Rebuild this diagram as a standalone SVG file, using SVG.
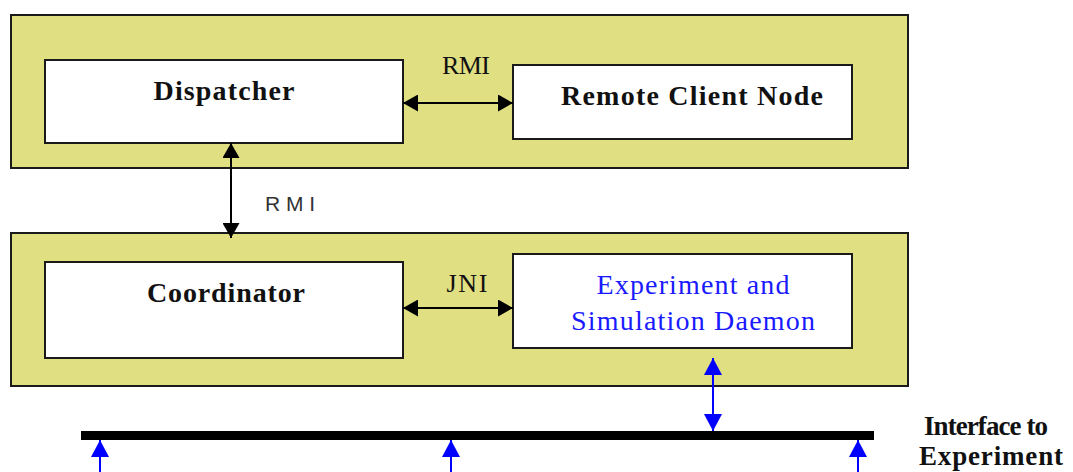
<svg xmlns="http://www.w3.org/2000/svg" width="1073" height="472" viewBox="0 0 1073 472">
  <style>
    .outer { fill: #e0df82; stroke: #1a1a1a; stroke-width: 2; }
    .inner { fill: #ffffff; stroke: #1a1a1a; stroke-width: 2; }
    .title { font-family: "Liberation Serif", serif; font-weight: bold; font-size: 28px; fill: #111; text-anchor: middle; }
    .blue { font-family: "Liberation Serif", serif; font-size: 28px; fill: #1a1aff; text-anchor: middle; }
    .lbl { font-family: "Liberation Serif", serif; font-size: 26px; fill: #111; text-anchor: middle; }
    .lbl2 { font-family: "Liberation Sans", sans-serif; font-size: 21px; fill: #333; }
    .side { font-family: "Liberation Serif", serif; font-weight: bold; font-size: 27px; fill: #111; }
    .blk { stroke: #000; stroke-width: 2; fill: none; }
    .bl { stroke: #0000ff; stroke-width: 2; fill: none; }
  </style>
  <defs>
    <marker id="ah" viewBox="0 0 15 17" refX="15" refY="8.5" markerWidth="15" markerHeight="17" markerUnits="userSpaceOnUse" orient="auto-start-reverse">
      <path d="M0,0 L15,8.5 L0,17 z" fill="#000"/>
    </marker>
    <marker id="bh" viewBox="0 0 17 18" refX="17" refY="9" markerWidth="17" markerHeight="18" markerUnits="userSpaceOnUse" orient="auto-start-reverse">
      <path d="M0,0 L17,9 L0,18 z" fill="#0000ff"/>
    </marker>
  </defs>

  <g id="top-host">
    <rect class="outer" x="11" y="15" width="897" height="153"/>
  </g>
  <g id="bottom-host">
    <rect class="outer" x="11" y="233" width="897" height="153"/>
  </g>

  <g id="dispatcher">
    <rect class="inner" x="45" y="60" width="358" height="83"/>
    <text class="title" x="224" y="100" textLength="141" lengthAdjust="spacing">Dispatcher</text>
  </g>
  <g id="remote-client-node">
    <rect class="inner" x="513" y="65" width="339" height="74"/>
    <text class="title" x="692" y="105" textLength="262" lengthAdjust="spacing">Remote Client Node</text>
  </g>
  <g id="coordinator">
    <rect class="inner" x="45" y="262" width="358" height="96"/>
    <text class="title" x="226" y="302" textLength="158" lengthAdjust="spacing">Coordinator</text>
  </g>
  <g id="daemon">
    <rect class="inner" x="513" y="254" width="339" height="94"/>
    <text class="blue" x="693" y="294" textLength="193" lengthAdjust="spacing">Experiment and</text>
    <text class="blue" x="693" y="330" textLength="244" lengthAdjust="spacing">Simulation Daemon</text>
  </g>

  <g id="interface-bar">
    <rect x="81" y="431" width="793" height="9" fill="#000"/>
    <text class="side" x="924" y="435" textLength="124" lengthAdjust="spacing">Interface to</text>
    <text class="side" x="919" y="465" textLength="144" lengthAdjust="spacing">Experiment</text>
  </g>

  <g id="connectors">
    <line class="blk" x1="403" y1="103" x2="513" y2="103" marker-start="url(#ah)" marker-end="url(#ah)"/>
    <text class="lbl" x="466" y="74" textLength="48" lengthAdjust="spacing">RMI</text>
    <line class="blk" x1="231" y1="143" x2="231" y2="238" marker-start="url(#ah)" marker-end="url(#ah)"/>
    <text class="lbl2" x="265" y="211" textLength="50" lengthAdjust="spacing">RMI</text>
    <line class="blk" x1="403" y1="308" x2="513" y2="308" marker-start="url(#ah)" marker-end="url(#ah)"/>
    <text class="lbl" x="467" y="292" textLength="41" lengthAdjust="spacing">JNI</text>
    <line class="bl" x1="713" y1="358" x2="713" y2="431" marker-start="url(#bh)" marker-end="url(#bh)"/>
    <line class="bl" x1="100" y1="472" x2="100" y2="440" marker-end="url(#bh)"/>
    <line class="bl" x1="451" y1="472" x2="451" y2="440" marker-end="url(#bh)"/>
    <line class="bl" x1="858" y1="472" x2="858" y2="440" marker-end="url(#bh)"/>
  </g>
</svg>
